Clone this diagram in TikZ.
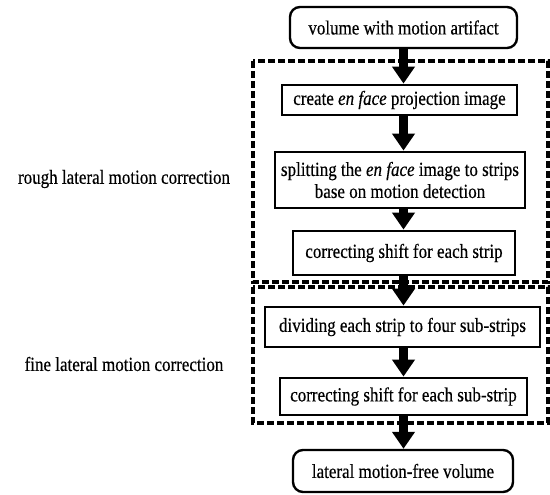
\documentclass[tikz,border=0pt]{standalone}
\usepackage{fontspec}
\setmainfont[FakeStretch=0.85,FakeBold=0.4]{Liberation Serif}
\usetikzlibrary{arrows.meta}
\tikzset{
  stepbox/.style={draw,line width=2.8pt,inner sep=0pt,align=center,font=\fontsize{20}{22}\selectfont},
  endbox/.style={stepbox,rounded corners=10pt,line width=2.4pt},
  flow/.style={line width=9pt,-{Triangle[width=22pt,length=17pt]}},
  group/.style={line width=3.2pt,dash pattern=on 7pt off 3pt},
  grouplabel/.style={font=\fontsize{20}{22}\selectfont}
}
\begin{document}
\begin{tikzpicture}[x=1pt,y=-1pt]
\useasboundingbox (0,0) rectangle (550,495);
% correction stages
\draw[group] (253,61) rectangle (548,282);
\draw[group] (253,287) rectangle (548,423);
\node[grouplabel] (roughlbl) at (124,179) {rough lateral motion correction};
\node[grouplabel] (finelbl) at (124,364) {fine lateral motion correction};
% steps
\node[endbox,minimum width=227pt,minimum height=41pt] (vol) at (403.5,27.5) {volume with motion artifact};
\node[stepbox,minimum width=235pt,minimum height=30pt] (proj) at (399.5,100) {create \textit{en face} projection image};
\node[stepbox,minimum width=250pt,minimum height=56pt] (split) at (400,180) {splitting the \textit{en face} image to strips\\ base on motion detection};
\node[stepbox,minimum width=222pt,minimum height=44pt] (shift) at (404,253) {correcting shift for each strip};
\node[stepbox,minimum width=275pt,minimum height=40pt] (divide) at (402.5,327) {dividing each strip to four sub-strips};
\node[stepbox,minimum width=247pt,minimum height=37pt] (subshift) at (403.5,396.5) {correcting shift for each sub-strip};
\node[endbox,minimum width=220pt,minimum height=42pt] (free) at (403,471) {lateral motion-free volume};
% arrows, all on one vertical line
\draw[flow] (vol.south) -- (vol.south |- proj.north);
\draw[flow] (vol.south |- proj.south) -- (vol.south |- split.north);
\draw[flow] (vol.south |- split.south) -- (vol.south |- shift.north);
\draw[flow] (vol.south |- shift.south) -- (vol.south |- divide.north);
\draw[flow] (vol.south |- divide.south) -- (vol.south |- subshift.north);
\draw[flow] (vol.south |- subshift.south) -- (vol.south |- free.north);
\end{tikzpicture}
\end{document}
